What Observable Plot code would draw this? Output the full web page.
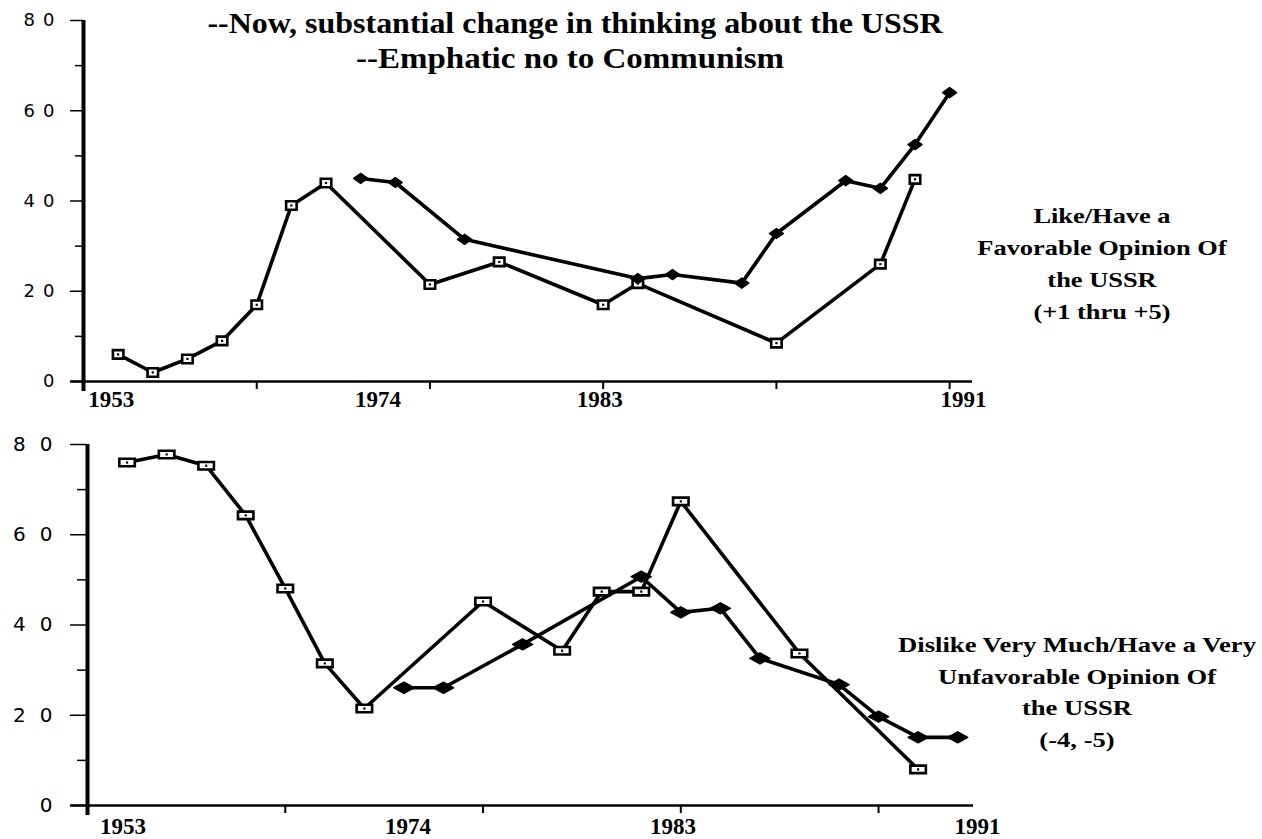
<!DOCTYPE html>
<html>
<head>
<meta charset="utf-8">
<script src="https://cdn.jsdelivr.net/npm/d3@7"></script>
<script src="https://cdn.jsdelivr.net/npm/@observablehq/plot@0.6"></script>
<style>
  html, body { margin: 0; padding: 0; background: #fff; }
  #wrap { position: relative; width: 1262px; height: 839px; overflow: hidden; background: #fff; }
  #wrap > .panel { position: absolute; left: 0; }
  .txt { position: absolute; font-family: "Liberation Serif", "Times New Roman", serif; font-weight: bold; color: #000; text-align: center; white-space: nowrap; transform-origin: 50% 50%; }
  .panel [aria-label="y-axis tick label"] text { letter-spacing: var(--ls); }
</style>
</head>
<body>
<div id="wrap"></div>
<script>
// ---------- data (survey index along x, percent along y) ----------
const topSquareIdx = [1, 2, 3, 4, 5, 6, 7, 10, 12, 15, 16, 20, 23, 24];
const topSquareVal = [6, 2, 5, 9, 17, 39, 44, 21.5, 26.5, 17, 21.7, 8.5, 26, 44.8];
const topDiamondIdx = [8, 9, 11, 16, 17, 19, 20, 22, 23, 24, 25];
const topDiamondVal = [45, 44.1, 31.5, 22.8, 23.7, 21.8, 32.8, 44.5, 42.8, 52.5, 64];

const botSquareIdx = [1, 2, 3, 4, 5, 6, 7, 10, 12, 13, 14, 15, 18, 21];
const botSquareVal = [76, 77.8, 75.3, 64.3, 48.1, 31.5, 21.5, 45.2, 34.3, 47.4, 47.4, 67.4, 33.7, 8];
const botDiamondIdx = [8, 9, 11, 14, 15, 16, 17, 19, 20, 21, 22];
const botDiamondVal = [26.1, 26.1, 35.7, 50.7, 42.8, 43.7, 32.6, 26.8, 19.7, 15.1, 15.1];

const yMajor = [0, 20, 40, 60, 80];
const yMinor = [10, 30, 50, 70];
const topXTicks = [5, 10, 15, 20, 25];
const botXTicks = [5, 10, 15, 20];
const yearLabels = ["1953", "1974", "1983", "1991"];
const topYearPos = [0.8, 8.5, 14.9, 25.4];
const botYearPos = [0.9, 8.1, 14.8, 22.5];

const titleLines = ["--Now, substantial change in thinking about the USSR", "--Emphatic no to Communism"];
const topNote = ["Like/Have a", "Favorable Opinion Of", "the USSR", "(+1 thru +5)"];
const botNote = ["Dislike Very Much/Have a Very", "Unfavorable Opinion Of", "the USSR", "(-4, -5)"];

// ---------- helpers ----------
const toRows = (idx, val) => idx.map((i, k) => ({i, v: val[k]}));
const rectSym = (w, h) => ({draw(c) { c.moveTo(-w/2, -h/2); c.lineTo(w/2, -h/2); c.lineTo(w/2, h/2); c.lineTo(-w/2, h/2); c.closePath(); }});
const diamondSym = (w, h) => ({draw(c) { c.moveTo(0, -h/2); c.lineTo(w/2, 0); c.lineTo(0, h/2); c.lineTo(-w/2, 0); c.closePath(); }});

function panel(o) {
  const sq = toRows(o.sqIdx, o.sqVal);
  const di = toRows(o.diIdx, o.diVal);
  const fmt = d => yearLabels[o.yearPos.indexOf(d)];
  return Plot.plot({
    width: 1262, height: o.height,
    marginLeft: o.ml, marginRight: o.mr, marginTop: o.mt, marginBottom: o.mb,
    x: {domain: o.xDomain, label: null},
    y: {domain: [0, 80], label: null},
    style: {background: "white", overflow: "visible"},
    marks: [
      Plot.ruleY([0], {stroke: "black", strokeWidth: 2.5, insetLeft: -o.majorTick}),
      Plot.ruleX([0], {stroke: "black", strokeWidth: 4, insetBottom: -10}),
      Plot.axisY(yMajor, {tickSize: o.majorTick, tickPadding: o.pad, strokeWidth: 1.5, fontSize: o.yFont, fontFamily: "DejaVu Sans", label: null, tickFormat: d => String(d)}),
      Plot.axisY(yMinor, {tickSize: o.minorTick, strokeWidth: 1.5, label: null, tickFormat: () => ""}),
      Plot.axisX(o.xTicks, {tickSize: 8, strokeWidth: 2, label: null, tickFormat: () => ""}),
      Plot.axisX(o.yearPos, {tickSize: 0, tickPadding: o.yearPad, fontSize: 23, fontFamily: "Liberation Serif", fontWeight: "bold", label: null, tickFormat: fmt}),
      Plot.line(sq, {x: "i", y: "v", stroke: "black", strokeWidth: 3.6, strokeLinejoin: "round"}),
      Plot.line(di, {x: "i", y: "v", stroke: "black", strokeWidth: 3.6, strokeLinejoin: "round"}),
      Plot.dot(sq, {x: "i", y: "v", symbol: rectSym(o.sqW, o.sqH), fill: "white", stroke: "black", strokeWidth: 2.6}),
      Plot.dot(sq, {x: "i", y: "v", symbol: rectSym(2.2, 2.2), fill: "black", stroke: null}),
      Plot.dot(di, {x: "i", y: "v", symbol: diamondSym(o.diW, o.diH), fill: "black", stroke: "black", strokeWidth: 1.5, strokeLinejoin: "round"})
    ]
  });
}

const wrap = document.getElementById("wrap");

const topPanel = panel({
  height: 420, ml: 83, mr: 290, mt: 20, mb: 39,
  xDomain: [0, 25.66], majorTick: 13, minorTick: 8, pad: 8, yFont: 18, yearPad: 9,
  xTicks: topXTicks, yearPos: topYearPos,
  sqIdx: topSquareIdx, sqVal: topSquareVal, diIdx: topDiamondIdx, diVal: topDiamondVal,
  sqW: 10.5, sqH: 8.5, diW: 14, diH: 10
});
topPanel.classList.add("panel");
topPanel.style.top = "0px";
topPanel.style.setProperty("--ls", "8px");
wrap.appendChild(topPanel);

const botPanel = panel({
  height: 419, ml: 87, mr: 289, mt: 24, mb: 34,
  xDomain: [0, 22.4], majorTick: 17, minorTick: 10, pad: 4, yFont: 20, yearPad: 12,
  xTicks: botXTicks, yearPos: botYearPos,
  sqIdx: botSquareIdx, sqVal: botSquareVal, diIdx: botDiamondIdx, diVal: botDiamondVal,
  sqW: 15.5, sqH: 7.5, diW: 20, diH: 11
});
botPanel.classList.add("panel");
botPanel.style.top = "420px";
botPanel.style.setProperty("--ls", "14px");
wrap.appendChild(botPanel);

// ---------- text ----------
function addText(lines, cx, topY, size, lh, sx) {
  const d = document.createElement("div");
  d.className = "txt";
  d.style.left = (cx - 400) + "px";
  d.style.width = "800px";
  d.style.top = topY + "px";
  d.style.fontSize = size + "px";
  d.style.lineHeight = lh + "px";
  d.style.transform = "scaleX(" + sx + ")";
  d.innerHTML = lines.map(s => s.replace(/&/g, "&amp;").replace(/</g, "&lt;")).join("<br>");
  wrap.appendChild(d);
}
addText([titleLines[0]], 575, 8, 30, 30, 1.065);
addText([titleLines[1]], 570, 43, 30, 30, 1.1);
addText(topNote, 1102, 200, 22, 32, 1.2);
addText(botNote, 1077, 629, 22, 31.5, 1.21);
</script>
</body>
</html>
